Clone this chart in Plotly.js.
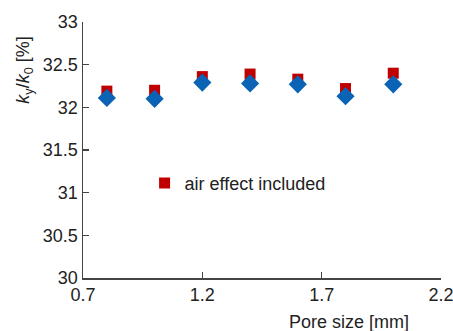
<!DOCTYPE html>
<html><head><meta charset="utf-8">
<script src="https://cdn.plot.ly/plotly-3.0.1.min.js"></script>
<style>html,body{margin:0;padding:0;background:#fff}#chart{width:453px;height:331px}</style>
</head><body><div id="chart"></div>
<script>
const poreSize = [0.8, 1.0, 1.2, 1.4, 1.6, 1.8, 2.0];
const airIncluded = [32.19, 32.20, 32.36, 32.39, 32.33, 32.22, 32.40];
const airExcluded = [32.11, 32.10, 32.29, 32.28, 32.27, 32.13, 32.27];
const xTicks = [0.7, 1.2, 1.7, 2.2];
const yTicks = [30, 30.5, 31, 31.5, 32, 32.5, 33];

const font = {family: 'Liberation Sans, Arial, sans-serif', size: 18, color: '#222'};
const traces = [
  {x: poreSize, y: airIncluded, mode: 'markers', type: 'scatter', name: 'air effect included',
   marker: {symbol: 'square', size: 11, color: '#c00000', line: {width: 0}}},
  {x: poreSize, y: airExcluded, mode: 'markers', type: 'scatter', name: 'air effect excluded', showlegend: false,
   marker: {symbol: 'diamond', size: 14, color: '#0a63b4', line: {width: 0}}}
];
const layout = {
  width: 453, height: 331,
  margin: {l: 83, r: 12, t: 22, b: 53},
  paper_bgcolor: '#fff', plot_bgcolor: '#fff',
  font: font,
  showlegend: true,
  legend: {x: 0.172, y: 0.37, xanchor: 'left', yanchor: 'middle', bgcolor: 'rgba(0,0,0,0)', font: font,
           itemwidth: 30, tracegroupgap: 0},
  xaxis: {range: [0.7, 2.2], tickvals: xTicks, ticktext: xTicks.map(v => v.toFixed(1)),
          ticks: 'inside', ticklen: 6, tickwidth: 1.5, tickcolor: '#444', ticklabeloverflow: 'allow',
          showline: true, linecolor: '#444', linewidth: 1.5, showgrid: false, zeroline: false,
          tickfont: font},
  yaxis: {range: [30, 33], tickvals: yTicks, ticktext: yTicks.map(v => String(v)),
          ticks: 'inside', ticklen: 6, tickwidth: 1.5, tickcolor: '#444',
          showline: true, linecolor: '#444', linewidth: 1.5, showgrid: false, zeroline: false,
          tickfont: font},
  annotations: [
    {text: '<i>k</i><sub>y</sub>/<i>k</i><sub>0</sub> [%]', xref: 'paper', yref: 'paper',
     x: -0.162, y: 0.81, xanchor: 'center', yanchor: 'middle', textangle: -90, showarrow: false, font: font},
    {text: 'Pore size [mm]', xref: 'paper', yref: 'paper', x: 0.917, y: -0.172,
     xanchor: 'right', yanchor: 'middle', showarrow: false, font: font}
  ]
};
Plotly.newPlot('chart', traces, layout, {displayModeBar: false, staticPlot: true});
</script></body></html>
